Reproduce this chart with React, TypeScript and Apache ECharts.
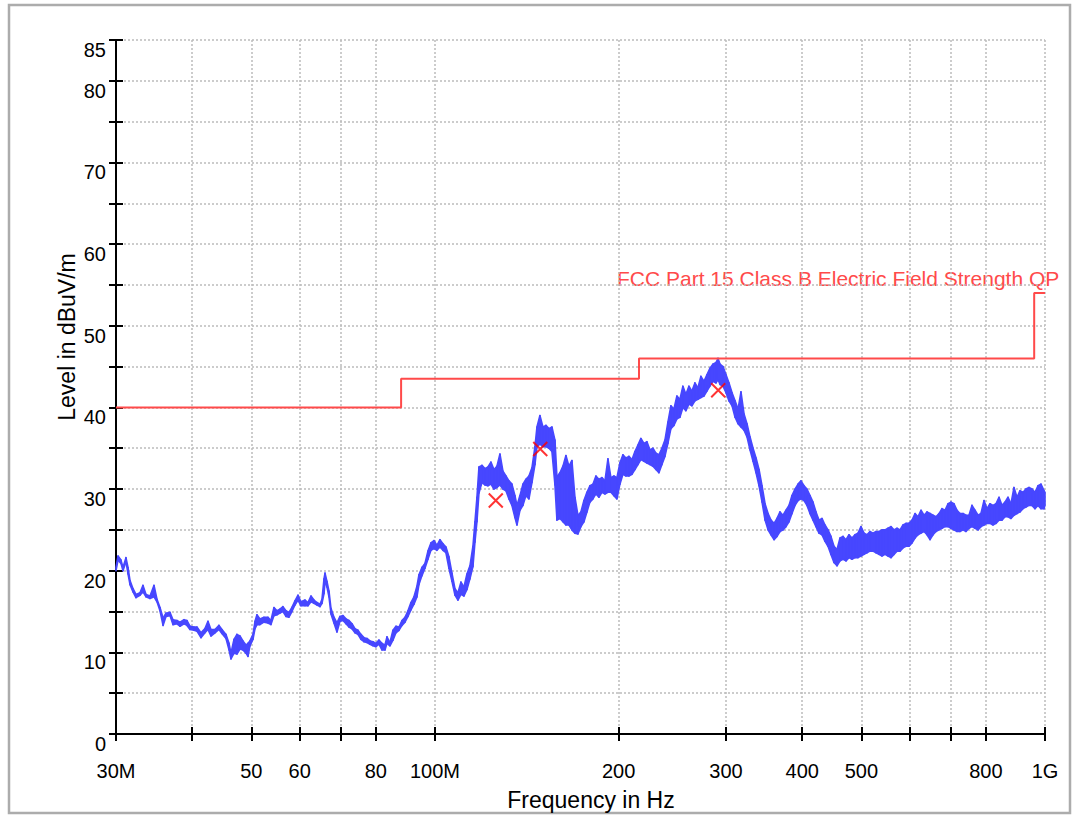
import React, { useEffect, useRef } from 'react';
import * as echarts from 'echarts';

// Measured trace, envelope per frequency bin (MHz, dBuV/m)
const freqMHz = [
  30.00, 30.23, 30.57, 30.80, 31.15, 31.39, 31.63, 31.99, 32.35, 32.84,
  33.22, 33.60, 34.11, 34.63, 35.02, 35.42, 35.83, 36.23, 36.78, 37.20,
  37.76, 38.19, 38.78, 39.22, 39.66, 40.27, 40.72, 41.34, 41.97, 42.45,
  42.93, 43.59, 44.25, 44.75, 45.44, 45.96, 46.30, 46.84, 47.36, 47.90,
  48.44, 49.00, 49.37, 49.74, 50.31, 50.70, 51.07, 51.65, 52.44, 53.24,
  53.84, 54.46, 55.08, 55.70, 56.34, 56.98, 57.63, 58.28, 58.95, 59.63,
  60.30, 61.23, 61.92, 62.62, 63.34, 64.06, 64.79, 65.28, 65.78, 66.03,
  66.52, 67.03, 67.53, 68.30, 69.08, 69.87, 70.66, 71.47, 72.28, 73.11,
  73.94, 74.77, 75.62, 76.49, 77.36, 78.24, 79.14, 80.03, 80.94, 81.86,
  82.80, 83.43, 84.37, 85.34, 86.31, 87.29, 88.29, 89.30, 90.31, 91.33,
  92.38, 93.42, 94.13, 95.20, 96.29, 97.38, 98.49, 99.62, 100.75, 101.90,
  103.06, 104.23, 105.42, 106.62, 107.84, 109.06, 110.30, 111.56, 112.83, 114.11,
  115.41, 116.29, 117.17, 118.06, 119.40, 120.77, 122.14, 123.52, 124.94, 126.36,
  127.79, 129.25, 130.72, 132.21, 133.71, 135.24, 136.27, 137.81, 139.39, 140.97,
  142.58, 144.20, 145.85, 146.95, 148.61, 150.31, 152.02, 153.75, 155.50, 157.28,
  158.47, 160.27, 162.10, 163.94, 165.81, 167.69, 169.61, 171.53, 173.47, 175.47,
  177.46, 179.48, 181.53, 183.59, 185.68, 187.79, 189.94, 192.10, 194.27, 196.50,
  198.73, 200.99, 203.29, 205.60, 207.94, 210.31, 212.71, 215.13, 217.57, 220.07,
  222.56, 225.09, 227.66, 230.25, 232.87, 235.52, 238.22, 240.92, 243.64, 246.44,
  249.24, 252.07, 254.95, 257.85, 260.79, 263.75, 266.77, 269.80, 272.85, 275.98,
  279.12, 282.29, 285.51, 288.9, 291.1, 293.3, 296.6, 300.0, 303.4, 306.9,
  310.4, 313.9, 317.4, 321.1, 324.7, 328.4, 332.2, 336.0, 339.8, 343.7,
  347.6, 351.6, 355.5, 359.6, 363.7, 367.8, 372.0, 376.2, 380.5, 384.8,
  389.2, 393.7, 398.1, 402.7, 407.2, 411.9, 416.6, 421.3, 426.1, 430.9,
  435.9, 440.8, 445.8, 450.9, 456.1, 461.3, 466.6, 471.8, 477.2, 482.6,
  488.1, 493.7, 499.3, 505.0, 510.7, 516.5, 522.4, 528.4, 534.4, 540.5,
  546.7, 552.9, 559.1, 565.5, 572.0, 578.5, 585.1, 591.8, 598.5, 605.4,
  612.3, 619.2, 626.2, 633.4, 640.6, 647.9, 655.3, 662.7, 670.3, 677.9,
  685.6, 693.4, 701.3, 709.3, 717.4, 725.6, 733.9, 742.1, 750.6, 759.1,
  767.8, 776.6, 785.3, 794.4, 803.3, 812.5, 821.7, 831.1, 840.6, 850.1,
  859.9, 869.7, 879.5, 889.6, 899.7, 909.9, 920.3, 930.7, 941.3, 952.0,
  962.9, 973.8, 984.9, 996.2, 1000
];
const upperDb = [
  20.4, 21.8, 21.3, 20.4, 21.6, 20.4, 18.8, 17.8, 17.1, 17.3,
  18.2, 17.1, 16.9, 18.2, 16.5, 15.5, 14.2, 14.8, 14.9, 14.0,
  13.9, 13.7, 14.0, 13.9, 13.2, 13.1, 13.1, 12.4, 12.9, 13.8,
  12.8, 12.8, 13.3, 12.8, 12.2, 11.1, 9.9, 11.6, 12.2, 12.0,
  11.4, 10.9, 11.1, 11.4, 12.2, 13.8, 14.6, 14.1, 14.3, 14.3,
  13.9, 15.5, 15.1, 15.3, 15.6, 15.1, 14.9, 15.5, 16.3, 17.0,
  16.2, 16.4, 16.1, 16.9, 16.4, 16.1, 15.9, 16.5, 19.0, 19.7,
  18.7, 17.5, 15.4, 14.3, 13.6, 14.4, 14.5, 14.1, 13.9, 13.5,
  12.9, 12.7, 12.2, 11.8, 11.7, 11.4, 11.3, 11.1, 11.5, 11.1,
  10.9, 11.9, 11.2, 12.7, 13.2, 13.1, 13.9, 14.3, 15.1, 16.1,
  16.8, 18.1, 19.5, 20.4, 20.9, 22.4, 23.4, 23.7, 23.1, 23.8,
  23.3, 22.9, 21.7, 19.7, 17.8, 17.3, 18.6, 18.0, 19.6, 20.6,
  23.0, 26.0, 29.0, 32.7, 32.9, 32.5, 32.7, 33.3, 32.4, 32.8,
  34.3, 32.2, 31.6, 31.0, 30.6, 29.2, 28.0, 29.2, 30.6, 31.2,
  31.6, 32.6, 35.2, 37.6, 39.0, 37.6, 37.8, 37.4, 37.6, 36.0,
  31.5, 32.0, 32.8, 34.1, 32.8, 33.5, 29.0, 26.8, 27.2, 28.6,
  29.6, 30.4, 30.6, 31.6, 31.2, 31.4, 31.0, 33.7, 31.4, 31.6,
  31.4, 33.2, 34.2, 33.8, 34.0, 33.6, 34.6, 35.4, 36.2, 35.6,
  35.8, 34.8, 35.0, 34.4, 34.2, 35.0, 36.0, 38.2, 40.2, 39.8,
  41.4, 41.0, 42.6, 41.6, 42.6, 42.0, 43.0, 42.4, 43.8, 43.2,
  44.0, 44.8, 45.3, 45.5, 46.0, 45.3, 45.0, 44.0, 43.0, 41.8,
  40.8, 39.8, 41.9, 39.2, 38.0, 36.4, 35.0, 33.8, 32.4, 30.4,
  28.2, 27.0, 26.2, 25.8, 26.4, 27.2, 26.8, 27.4, 28.0, 29.2,
  30.0, 30.6, 31.0, 30.4, 30.0, 29.2, 28.4, 27.2, 26.2, 26.4,
  25.6, 25.0, 24.2, 23.0, 22.6, 24.0, 24.2, 23.8, 24.4, 24.0,
  24.4, 24.6, 25.4, 24.6, 24.4, 24.8, 24.6, 24.8, 24.8, 25.0,
  25.0, 25.2, 25.4, 25.0, 25.2, 25.0, 25.6, 25.8, 25.8, 26.2,
  27.0, 26.6, 27.4, 26.8, 27.2, 27.0, 26.8, 26.6, 27.0, 27.6,
  27.4, 28.2, 28.4, 28.2, 27.4, 27.0, 27.0, 26.8, 26.8, 28.0,
  27.4, 26.8, 27.0, 28.6, 27.6, 28.2, 28.0, 28.2, 29.0, 28.0,
  28.4, 29.0, 28.2, 30.2, 29.0, 29.8, 29.6, 30.0, 30.2, 30.0,
  29.6, 30.4, 30.6, 29.8, 29.6
];
const lowerDb = [
  20.0, 21.3, 20.9, 20.0, 21.1, 19.6, 18.3, 17.4, 16.7, 17.0,
  17.4, 16.8, 16.6, 16.8, 16.2, 15.1, 13.3, 14.4, 14.5, 13.4,
  13.5, 13.2, 13.5, 13.3, 12.8, 12.7, 12.6, 11.8, 12.4, 12.8,
  12.0, 12.4, 12.8, 12.3, 11.7, 10.3, 9.2, 9.9, 9.8, 10.4,
  10.3, 9.9, 9.5, 10.8, 11.6, 12.9, 13.4, 13.4, 13.7, 13.6,
  13.4, 14.5, 14.6, 14.8, 15.0, 14.4, 14.3, 15.0, 15.8, 16.4,
  15.7, 15.7, 15.7, 16.2, 16.0, 15.8, 15.6, 16.0, 17.2, 18.6,
  18.0, 16.8, 14.7, 13.6, 12.5, 13.8, 13.9, 13.5, 13.1, 12.9,
  12.4, 12.2, 11.6, 11.3, 11.2, 11.0, 10.8, 10.7, 11.0, 10.3,
  10.3, 11.1, 10.8, 11.5, 12.4, 12.7, 13.3, 13.7, 14.4, 15.2,
  15.9, 16.8, 18.3, 19.4, 20.3, 21.4, 22.5, 22.7, 22.5, 22.9,
  22.5, 22.2, 20.3, 18.7, 17.0, 16.4, 17.1, 16.9, 17.7, 19.0,
  20.5, 23.5, 26.0, 29.5, 30.8, 30.5, 30.4, 30.6, 30.0, 30.2,
  30.5, 30.0, 29.8, 28.8, 28.0, 26.5, 25.6, 27.4, 28.0, 29.2,
  28.8, 30.8, 33.0, 35.2, 35.5, 35.2, 35.2, 35.0, 34.6, 30.5,
  26.2, 26.4, 26.0, 25.6, 25.6, 25.0, 24.6, 24.5, 25.4, 26.0,
  27.2, 28.4, 28.8, 29.4, 29.0, 29.6, 29.4, 29.6, 29.6, 29.2,
  28.8, 30.6, 31.8, 31.6, 31.6, 31.8, 32.4, 33.0, 33.6, 33.4,
  33.2, 33.0, 32.8, 32.4, 32.0, 33.0, 34.0, 35.6, 37.4, 37.8,
  38.6, 38.8, 40.0, 39.6, 40.4, 40.2, 40.8, 41.0, 41.2, 41.4,
  42.0, 42.6, 43.2, 43.0, 43.4, 42.8, 42.6, 41.8, 40.8, 40.2,
  38.8, 38.0, 37.6, 37.2, 36.4, 34.8, 33.4, 32.0, 30.4, 28.4,
  26.2, 25.0, 24.4, 23.8, 24.2, 24.8, 25.0, 25.4, 26.0, 27.0,
  28.0, 28.6, 28.8, 28.6, 28.0, 27.0, 26.2, 25.4, 24.6, 24.4,
  23.6, 23.0, 22.0, 21.0, 20.6, 21.2, 21.4, 21.2, 21.6, 21.4,
  21.6, 21.6, 21.8, 22.0, 22.2, 22.4, 22.4, 22.2, 22.0, 21.8,
  22.0, 21.8, 21.6, 22.0, 22.4, 22.4, 22.8, 23.0, 23.0, 23.4,
  24.0, 24.4, 24.6, 24.8, 24.4, 23.8, 24.4, 24.8, 25.0, 25.2,
  25.4, 25.4, 25.2, 25.0, 24.8, 24.8, 25.0, 24.8, 25.2, 25.4,
  25.2, 25.0, 25.4, 25.6, 25.8, 25.8, 25.6, 25.8, 26.2, 26.2,
  26.6, 26.6, 26.4, 26.8, 27.0, 27.2, 27.6, 27.8, 28.0, 28.0,
  27.6, 28.0, 27.6, 27.6, 28.0
];

// FCC Part 15 Class B limit (QP), step changes
const limitFreqMHz = [30, 88, 216, 960, 1000];
const limitDb = [40, 43.5, 46, 54, 54];

// Final QP measurement markers
const markerFreqMHz = [125.8, 148.8, 291.3];
const markerDb = [28.6, 34.9, 42.1];

// Axis ticks and labels
const xTickFreqs = [30, 40, 50, 60, 70, 80, 100, 200, 300, 400, 500, 600, 700, 800, 1000];
const xLabelFreqs = [30, 50, 60, 80, 100, 200, 300, 400, 500, 800, 1000];
const xLabelTexts = ['30M', '50', '60', '80', '100M', '200', '300', '400', '500', '800', '1G'];
const yLabelValues = [0, 10, 20, 30, 40, 50, 60, 70, 80, 85];

const lg = (v: number) => Math.log10(v);
const BLUE = '#4747ff';
const RED = '#ff4a4a';
const FONT = '"Liberation Sans", Arial, sans-serif';
const GRID_LINE = { color: '#bcbcbc', type: [2, 2] as any, width: 1.5 };
const TICK_LINE = { color: '#000', width: 2 };

export default function App() {
  const ref = useRef<HTMLDivElement>(null);
  useEffect(() => {
    if (!ref.current) return;
    const chart = echarts.init(ref.current, undefined, { renderer: 'svg' });
    const xMin = lg(30);
    const xMax = lg(1000);
    const xTicks = xTickFreqs.map(lg);
    const xLabelVals = xLabelFreqs.map(lg);
    const xFormatter = (v: number) => {
      for (let i = 0; i < xLabelVals.length; i++) {
        if (Math.abs(xLabelVals[i] - v) < 1e-6) return xLabelTexts[i];
      }
      return '';
    };
    const yFormatter = (v: number) => (yLabelValues.indexOf(v) >= 0 ? String(v) : '');

    // Trace envelope as data rows: [log10(f), upper, lower]
    const traceRows = freqMHz.map((f, i) => [lg(f), upperDb[i], lowerDb[i]]);

    const option: any = {
      animation: false,
      backgroundColor: '#fff',
      grid: { left: 116, right: 27, top: 40, bottom: 82, containLabel: false },
      xAxis: [
        {
          type: 'value', min: xMin, max: xMax, position: 'bottom',
          axisLine: { show: true, onZero: false, lineStyle: { color: '#000', width: 2 } },
          axisTick: { show: true, customValues: xTicks, length: 7, lineStyle: TICK_LINE },
          axisLabel: {
            customValues: xLabelVals, formatter: xFormatter, margin: 27,
            fontSize: 20, color: '#000', fontFamily: FONT, hideOverlap: false,
            showMinLabel: true, showMaxLabel: true,
          },
          splitLine: { show: true, lineStyle: GRID_LINE },
        },
        {
          type: 'value', min: xMin, max: xMax, position: 'bottom',
          axisLine: { show: false },
          axisTick: { show: true, inside: true, customValues: xTicks, length: 7, lineStyle: TICK_LINE },
          axisLabel: { show: false },
          splitLine: { show: false },
        },
      ],
      yAxis: [
        {
          type: 'value', min: 0, max: 85, interval: 5, position: 'left',
          axisLine: { show: true, onZero: false, lineStyle: { color: '#000', width: 2 } },
          axisTick: { show: true, length: 7, lineStyle: TICK_LINE },
          axisLabel: {
            formatter: yFormatter, fontSize: 20, color: '#000', fontFamily: FONT,
            margin: 10, verticalAlign: 'top', showMinLabel: true, showMaxLabel: true,
          },
          splitLine: { show: true, lineStyle: GRID_LINE },
        },
        {
          type: 'value', min: 0, max: 85, interval: 5, position: 'left',
          axisLine: { show: false },
          axisTick: { show: true, inside: true, length: 7, lineStyle: TICK_LINE },
          axisLabel: { show: false },
          splitLine: { show: false },
        },
      ],
      series: [
        {
          type: 'custom', name: 'trace', silent: true, z: 2,
          data: traceRows,
          encode: { x: 0, y: [1, 2] },
          renderItem: (params: any, api: any) => {
            const i = params.dataIndex;
            if (i >= traceRows.length - 1) return null;
            const a = traceRows[i];
            const b = traceRows[i + 1];
            const p1 = api.coord([a[0], a[1]]);
            const p2 = api.coord([b[0], b[1]]);
            const p3 = api.coord([b[0], b[2]]);
            const p4 = api.coord([a[0], a[2]]);
            return {
              type: 'polygon',
              shape: { points: [p1, p2, p3, p4] },
              style: { fill: BLUE, stroke: BLUE, lineWidth: 1.6, lineJoin: 'round' },
            };
          },
        },
        {
          type: 'line', name: 'limit', step: 'end', symbol: 'none', silent: true, z: 3,
          data: limitFreqMHz.map((f, i) => [lg(f), limitDb[i]]),
          lineStyle: { color: RED, width: 2 },
        },
        {
          type: 'scatter', name: 'markers', silent: true, z: 4,
          symbol: 'path://M0,0L10,10M10,0L0,10', symbolSize: 14,
          data: markerFreqMHz.map((f, i) => [lg(f), markerDb[i]]),
          itemStyle: { color: 'none', borderColor: '#ff0000', borderWidth: 2 },
        },
      ],
      graphic: [
        {
          type: 'rect', silent: true, z: 0,
          shape: { x: 9, y: 5, width: 1061, height: 808 },
          style: { fill: 'none', stroke: '#acacac', lineWidth: 2.5 },
        },
        {
          type: 'text', silent: true, x: 617, y: 278,
          style: {
            text: 'FCC Part 15 Class B Electric Field Strength QP',
            fill: RED, font: '21px ' + FONT,
            align: 'left', verticalAlign: 'middle', textAlign: 'left', textVerticalAlign: 'middle',
          },
        },
        {
          type: 'text', silent: true, x: 591, y: 800,
          style: {
            text: 'Frequency in Hz', fill: '#000', font: '23px ' + FONT,
            align: 'center', verticalAlign: 'middle', textAlign: 'center', textVerticalAlign: 'middle',
          },
        },
        {
          type: 'text', silent: true, x: 67, y: 337, rotation: Math.PI / 2,
          style: {
            text: 'Level in dBuV/m', fill: '#000', font: '23px ' + FONT,
            align: 'center', verticalAlign: 'middle', textAlign: 'center', textVerticalAlign: 'middle',
          },
        },
      ],
    };
    chart.setOption(option);
    return () => chart.dispose();
  }, []);
  return (
    <div
      ref={ref}
      style={{ position: 'absolute', left: 0, top: 0, width: 1072, height: 816 }}
    />
  );
}
